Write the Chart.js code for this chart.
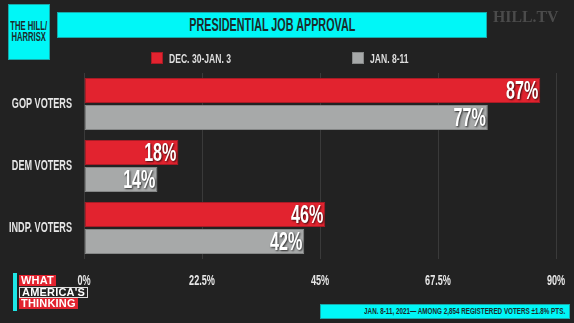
<!DOCTYPE html>
<html>
<head>
<meta charset="utf-8">
<script src="https://cdn.jsdelivr.net/npm/chart.js@4"></script>
<style>
  body { margin: 0; background: #222222; }
  #wrap { position: relative; width: 574px; height: 323px; overflow: hidden; font-family: "Liberation Sans", Arial, sans-serif; font-weight: bold; }
  #chart { position: absolute; left: 0; top: 0; }
  .abs { position: absolute; }
  .sq { display: inline-block; white-space: nowrap; transform-origin: 0 50%; }
  .cyan { background: #00f7f7; border: 1px solid #17a9a9; box-sizing: border-box; color: #1c2b2b; }
  #brand { left: 8px; top: 4px; width: 42px; height: 56px; font-size: 12px; line-height: 11px; display: flex; justify-content: center; align-items: center; }
  #brand .sq { flex: none; text-align: center; transform-origin: 50% 50%; transform: scaleX(0.64); }
  #title { left: 57px; top: 12px; width: 430px; height: 26px; font-size: 18px; line-height: 25px; text-align: center; }
  #title .sq { transform-origin: 50% 50%; transform: scaleX(0.6); }
  #hilltv { left: 493px; top: 7px; font-family: "Liberation Serif", serif; font-size: 17px; color: #4b4b4b; }
  #hilltv .sq { transform: scaleX(0.93); }
  .leg { top: 51px; height: 14px; font-size: 13px; line-height: 14px; color: #dedede; }
  .leg i { position: absolute; left: 0; top: 1px; width: 12px; height: 12px; box-sizing: border-box; }
  .leg .sq { position: absolute; left: 18px; top: 1px; transform: scaleX(0.66); }
  #logo { left: 13px; top: 273px; width: 80px; height: 38px; }
  #logo .bar { position: absolute; left: 0; top: 0; width: 4px; height: 38px; background: #1ee6e6; }
  #logo span { position: absolute; left: 6px; height: 11px; font-size: 11px; line-height: 11px; color: #fff; padding: 0 2px; box-sizing: border-box; letter-spacing: 0.2px; }
  #note { left: 320px; top: 304px; width: 250px; height: 15px; font-size: 9px; line-height: 13px; text-align: center; }
  #note .sq { transform-origin: 50% 50%; transform: scaleX(0.7); }
</style>
</head>
<body>
<div id="wrap">
  <canvas id="chart" width="574" height="323"></canvas>
  <div class="abs cyan" id="brand"><span class="sq">THE HILL/<br>HARRISX</span></div>
  <div class="abs cyan" id="title"><span class="sq">PRESIDENTIAL JOB APPROVAL</span></div>
  <div class="abs" id="hilltv"><span class="sq">HILL.TV</span></div>
  <div id="legend"></div>
  <div class="abs" id="logo">
    <div class="bar"></div>
    <span style="top:2px;background:#e2232f;">WHAT</span>
    <span style="top:14px;border:1px solid #ddd;line-height:9px;">AMERICA'S</span>
    <span style="top:25px;background:#e2232f;">THINKING</span>
  </div>
  <div class="abs cyan" id="note"><span class="sq">JAN. 8-11, 2021— AMONG 2,854 REGISTERED VOTERS ±1.8% PTS.</span></div>
</div>
<script>
// voter groups and approval share (%) for the two polling windows
var groups = ['GOP VOTERS', 'DEM VOTERS', 'INDP. VOTERS'];
var periods = ['DEC. 30-JAN. 3', 'JAN. 8-11'];
var decJan = [87, 18, 46];
var jan811 = [77, 14, 42];
var xTicks = [0, 22.5, 45, 67.5, 90];

var fills = ['#e2232f', '#a7a9a9'];
var edges = ['#a81b25', '#858787'];

// legend drawn in html, spaced like the broadcast graphic
var legendX = [151, 352];
var legend = document.getElementById('legend');
periods.forEach(function (p, i) {
    var d = document.createElement('div');
    d.className = 'abs leg';
    d.style.left = legendX[i] + 'px';
    d.innerHTML = '<i style="background:' + fills[i] + ';border:1px solid ' + edges[i] + '"></i><span class="sq">' + p + '</span>';
    legend.appendChild(d);
});

// squeezed text, the canvas fonts are not condensed
function narrowText(ctx, txt, x, y, size, align, sx) {
    ctx.save();
    ctx.font = 'bold ' + size + 'px "Liberation Sans", Arial, sans-serif';
    ctx.textBaseline = 'middle';
    ctx.textAlign = align;
    ctx.translate(x, y);
    ctx.scale(sx, 1);
    ctx.fillText(txt, 0, 0);
    ctx.restore();
}

var labelsPlugin = {
    id: 'labels',
    afterDraw: function (chart) {
        var ctx = chart.ctx;
        var xs = chart.scales.x, ys = chart.scales.y;
        ctx.fillStyle = '#e6e6e6';
        xs.ticks.forEach(function (t, i) {
            narrowText(ctx, t.value + '%', xs.getPixelForTick(i), 281, 14, 'center', 0.65);
        });
        chart.data.labels.forEach(function (l, i) {
            narrowText(ctx, l, chart.chartArea.left - 12, ys.getPixelForValue(i), 14, 'right', 0.65);
        });
        // values at the end of each bar
        chart.data.datasets.forEach(function (ds, di) {
            chart.getDatasetMeta(di).data.forEach(function (bar, i) {
                ctx.save();
                ctx.shadowColor = 'rgba(0,0,0,0.75)';
                ctx.shadowOffsetX = 1;
                ctx.shadowOffsetY = 1;
                ctx.shadowBlur = 2;
                ctx.fillStyle = '#ffffff';
                narrowText(ctx, ds.data[i] + '%', bar.x - 2, bar.y + 1, 26, 'right', 0.62);
                ctx.restore();
            });
        });
    }
};

var ctx = document.getElementById('chart').getContext('2d');
var myChart = new Chart(ctx, {
    type: 'bar',
    data: {
        labels: groups,
        datasets: [
            { label: periods[0], data: decJan, backgroundColor: fills[0], borderColor: edges[0], borderWidth: 1, borderSkipped: false },
            { label: periods[1], data: jan811, backgroundColor: fills[1], borderColor: edges[1], borderWidth: 1, borderSkipped: false }
        ]
    },
    options: {
        indexAxis: 'y',
        responsive: false,
        animation: false,
        categoryPercentage: 0.87,
        barPercentage: 0.93,
        layout: { padding: { top: 73, right: 18, left: 0, bottom: 0 } },
        plugins: { legend: { display: false }, tooltip: { enabled: false } },
        scales: {
            x: {
                min: xTicks[0],
                max: xTicks[xTicks.length - 1],
                afterBuildTicks: function (s) { s.ticks = xTicks.map(function (v) { return { value: v }; }); },
                ticks: { display: false },
                grid: { color: '#3a3a3a', drawTicks: false },
                border: { display: false },
                afterFit: function (s) { s.height = 64; }
            },
            y: {
                ticks: { display: false },
                grid: { display: false },
                border: { display: false },
                afterFit: function (s) { s.width = 84; }
            }
        }
    },
    plugins: [labelsPlugin]
});
</script>
</body>
</html>
